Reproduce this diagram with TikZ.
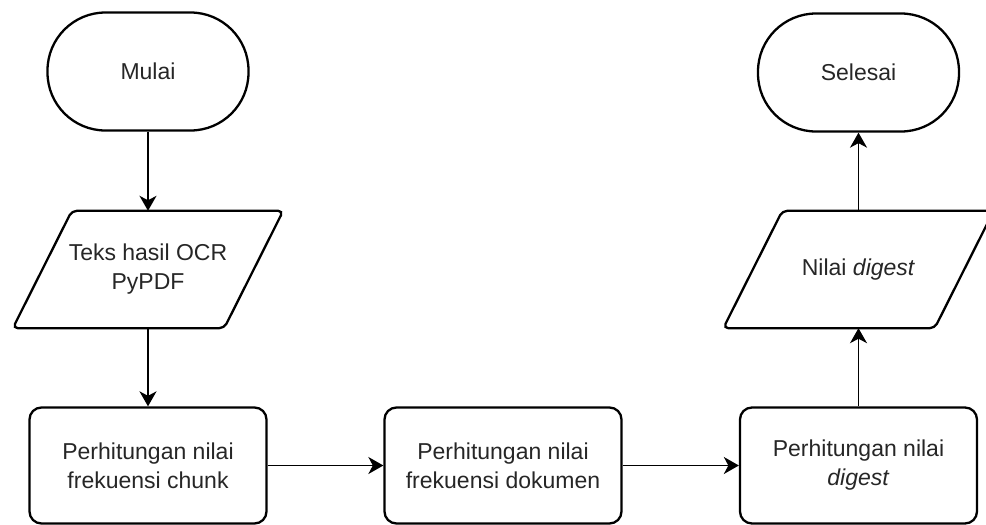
\documentclass[tikz,border=0pt]{standalone}
\usepackage{fontspec}
\setmainfont{Liberation Sans}
\usetikzlibrary{calc,arrows.meta}
\begin{document}
\begin{tikzpicture}[x=1pt,y=-1pt,
  font=\fontsize{23}{29}\selectfont,
  every node/.style={text=black!85},
  terminal/.style={draw=black, line width=2.3pt, rounded corners=58pt,
    minimum width=201pt, minimum height=118pt, align=center, inner sep=0pt},
  process/.style={draw=black, line width=2.3pt, rounded corners=12pt,
    minimum width=237pt, minimum height=116pt, align=center},
  iotext/.style={minimum width=211pt, minimum height=117pt, align=center, inner sep=0pt},
  iobox/.style={draw=black, line width=2.3pt, rounded corners=5pt},
  flow/.style={-{Stealth[length=15pt,width=17pt,inset=4.5pt]}, line width=1.7pt}
]
\useasboundingbox (0,0) rectangle (986,525);

% slanted data box drawn around a text node
\newcommand\databox[1]{%
  \draw[iobox] ($(#1.south west)+(-29.5,0)$) -- ($(#1.north west)+(29.5,0)$)
    -- ($(#1.north east)+(29.5,0)$) -- ($(#1.south east)+(-29.5,0)$) -- cycle;}

% left column
\node[terminal] (start) at (148,71.5) {Mulai};
\node[iotext] (ocr) at (148,269.5) {Teks hasil OCR\\PyPDF};
\databox{ocr}
\node[process] (chunk) at (148,465.5) {Perhitungan nilai\\frekuensi chunk};

% middle
\node[process] (doc) at (503,465.5) {Perhitungan nilai\\frekuensi dokumen};

% right column
\node[process] (dig) at (858.5,465.5) {Perhitungan nilai\\\textit{digest}};
\node[iotext] (val) at (858.5,269.5) {Nilai \textit{digest}};
\databox{val}
\node[terminal] (end) at (858.5,72.5) {Selesai};

% connectors
\draw[flow] (start) -- (ocr);
\draw[flow] (ocr) -- (chunk);
\draw[flow] (chunk) -- (doc);
\draw[flow] (doc) -- (dig);
\draw[flow] (dig) -- (val);
\draw[flow] (val) -- (end);
\end{tikzpicture}
\end{document}
